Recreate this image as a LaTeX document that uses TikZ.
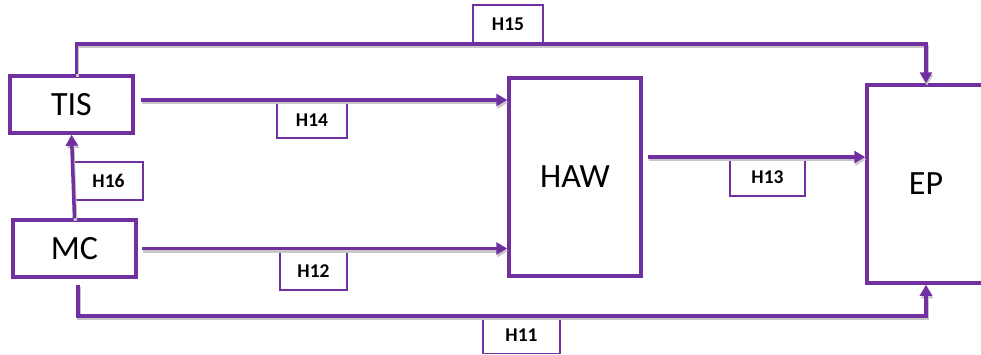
\documentclass[tikz,border=0pt]{standalone}
\usepackage{fontspec}
\setmainfont{Carlito}
\usetikzlibrary{arrows.meta}
\definecolor{vio}{HTML}{7030A0}
\begin{document}
\begin{tikzpicture}[x=1pt,y=-1pt,
  box/.style={draw=vio, line width=3.5pt, font=\fontsize{34}{40}\selectfont, inner sep=0pt},
  hyp/.style={draw=vio, line width=1.3pt, font=\bfseries\fontsize{19.5}{22}\selectfont, inner sep=0pt},
  conn/.style={draw=vio, line width=3.5pt, -{Triangle[length=11pt,width=12pt]},
    preaction={draw=black!22, line width=3.5pt, transform canvas={shift={(1pt,-2.5pt)}}}},
]
\useasboundingbox (0,0) rectangle (981,354);

% main boxes
\node[box, minimum width=123pt, minimum height=57pt] (TIS) at (71.5,104.5) {TIS};
\node[box, minimum width=123pt, minimum height=57pt] (MC) at (74.5,248.5) {MC};
\node[box, minimum width=132pt, minimum height=198pt] (HAW) at (575,177) {HAW};
\node[box, minimum width=118pt, minimum height=198pt] (EP) at (926,184) {EP};

% hypothesis labels
\node[hyp, minimum width=70pt, minimum height=39pt] (H15) at (508,24.5) {H15};
\node[hyp, minimum width=70pt, minimum height=36pt] (H14) at (312,120) {H14};
\node[hyp, minimum width=69pt, minimum height=38pt] (H16) at (108.5,181) {H16};
\node[hyp, minimum width=75pt, minimum height=38pt] (H13) at (767.5,177) {H13};
\node[hyp, minimum width=67pt, minimum height=38pt] (H12) at (313.5,271) {H12};
\node[hyp, minimum width=77pt, minimum height=37pt] (H11) at (521.5,335) {H11};

% helper coordinates for the routed paths
\coordinate (top) at (0,44);
\coordinate (bot) at (0,316);

% connectors
\draw[conn] ([xshift=5pt]TIS.north) -- ([xshift=5pt]TIS.north |- top) -- (top -| EP.north) -- (EP.north);
\draw[conn, shorten <=6pt] ([xshift=3.5pt]MC.south) -- ([xshift=3.5pt]MC.south |- bot) -- (bot -| EP.south) -- (EP.south);
\draw[conn, shorten <=6pt] ([yshift=4.5pt]TIS.east) -- ([yshift=4.5pt]TIS.east -| HAW.west);
\draw[conn, shorten <=4pt] (MC.east) -- (MC.east -| HAW.west);
\draw[conn, shorten <=5pt] ([yshift=20pt]HAW.east) -- ([yshift=20pt]HAW.east -| EP.west);
\draw[conn] (MC.north) -- (TIS.south);
\end{tikzpicture}
\end{document}
